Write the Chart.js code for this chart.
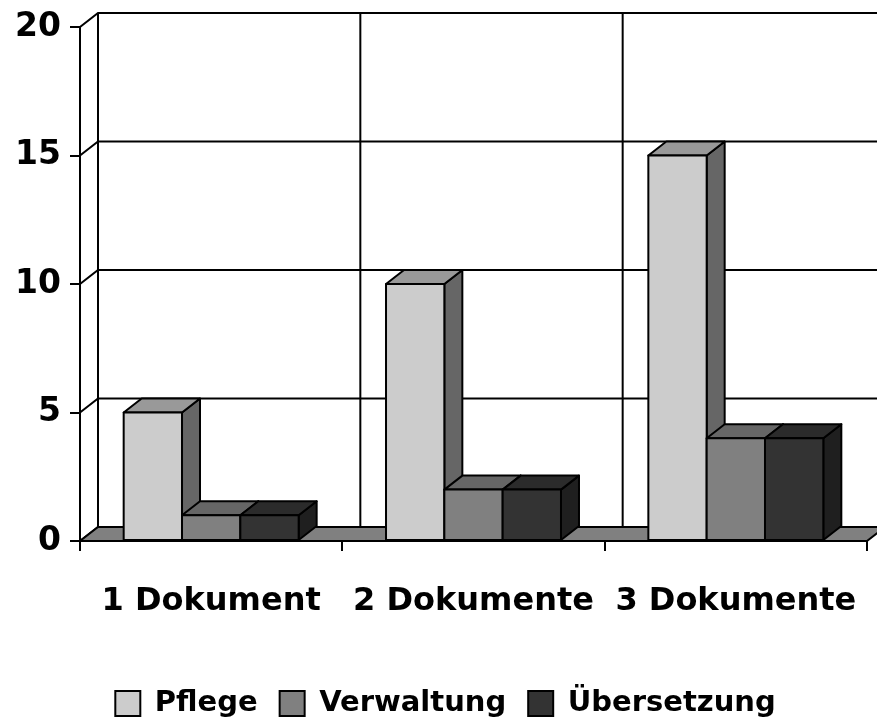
<!DOCTYPE html>
<html>
<head>
<meta charset="utf-8">
<script src="https://cdn.jsdelivr.net/npm/chart.js@4.4.0/dist/chart.umd.min.js"></script>
<style>
  html, body { margin: 0; padding: 0; background: #fff; }
  #wrap { width: 877px; height: 728px; }
</style>
</head>
<body>
<div id="wrap"><canvas id="chart" width="877" height="728"></canvas></div>
<script>
// Data
const categories = ['1 Dokument', '2 Dokumente', '3 Dokumente'];
const pflege = [5, 10, 15];
const verwaltung = [1, 2, 4];
const uebersetzung = [1, 2, 4];
const yTicks = [0, 5, 10, 15, 20];

// Shades per series: front face, top face, side face
const shades = [
    { front: '#cccccc', top: '#999999', side: '#666666' },
    { front: '#808080', top: '#666666', side: '#4d4d4d' },
    { front: '#333333', top: '#2b2b2b', side: '#1f1f1f' }
];

// Depth offset of the fake 3D box
const DX = 18, DY = -14;

// Back wall, floor and the 3D bars
const box3d = {
    id: 'box3d',
    afterUpdate(chart) {
        // legend sits a bit right of the canvas centre in the original
        chart.legend.left += 12;
        chart.legend.right += 12;
    },
    beforeDatasetsDraw(chart) {
        const { ctx, chartArea: a, scales: { x, y } } = chart;
        ctx.save();
        ctx.strokeStyle = '#000';
        ctx.lineWidth = 2;

        // Gridlines on the back wall + diagonals on the left wall
        yTicks.forEach(v => {
            const py = y.getPixelForValue(v);
            ctx.beginPath();
            ctx.moveTo(a.left, py);
            ctx.lineTo(a.left + DX, py + DY);
            ctx.lineTo(a.right + DX, py + DY);
            ctx.stroke();
        });

        // Vertical lines on the back wall (category boundaries)
        const bounds = [a.left];
        for (let i = 1; i < categories.length; i++) {
            bounds.push((x.getPixelForValue(i - 1) + x.getPixelForValue(i)) / 2);
        }
        bounds.push(a.right);
        ctx.beginPath();
        bounds.forEach(bx => {
            ctx.moveTo(bx + DX, a.top + DY);
            ctx.lineTo(bx + DX, a.bottom + DY);
        });
        ctx.stroke();

        // Floor
        ctx.beginPath();
        ctx.moveTo(a.left, a.bottom);
        ctx.lineTo(a.right, a.bottom);
        ctx.lineTo(a.right + DX, a.bottom + DY);
        ctx.lineTo(a.left + DX, a.bottom + DY);
        ctx.closePath();
        ctx.fillStyle = '#808080';
        ctx.fill();
        ctx.stroke();
        ctx.restore();
    },
    afterDatasetsDraw(chart) {
        // redraw every bar as a box, series 0 first so later ones overlap it
        const { ctx } = chart;
        ctx.save();
        ctx.strokeStyle = '#000';
        ctx.lineWidth = 2;
        ctx.lineJoin = 'round';
        chart.data.datasets.forEach((ds, i) => {
            const s = shades[i];
            chart.getDatasetMeta(i).data.forEach(bar => {
                const p = bar.getProps(['x', 'y', 'base', 'width'], true);
                const x1 = p.x - p.width / 2;
                const x2 = p.x + p.width / 2;
                const top = p.y;
                const bot = p.base;

                // side face
                ctx.beginPath();
                ctx.moveTo(x2, top);
                ctx.lineTo(x2 + DX, top + DY);
                ctx.lineTo(x2 + DX, bot + DY);
                ctx.lineTo(x2, bot);
                ctx.closePath();
                ctx.fillStyle = s.side;
                ctx.fill();
                ctx.stroke();

                // top face
                ctx.beginPath();
                ctx.moveTo(x1, top);
                ctx.lineTo(x1 + DX, top + DY);
                ctx.lineTo(x2 + DX, top + DY);
                ctx.lineTo(x2, top);
                ctx.closePath();
                ctx.fillStyle = s.top;
                ctx.fill();
                ctx.stroke();

                // front face
                ctx.beginPath();
                ctx.rect(x1, top, x2 - x1, bot - top);
                ctx.fillStyle = s.front;
                ctx.fill();
                ctx.stroke();
            });
        });
        ctx.restore();
    }
};

Chart.defaults.font.family = 'DejaVu Sans';
Chart.defaults.color = '#000';

const makeSet = (label, data, i) => ({
    label: label,
    data: data,
    backgroundColor: shades[i].front,
    borderColor: '#000',
    borderWidth: 2,
    categoryPercentage: 0.667,
    barPercentage: 1.0
});

new Chart(document.getElementById('chart'), {
    type: 'bar',
    data: {
        labels: categories,
        datasets: [
            makeSet('Pflege', pflege, 0),
            makeSet('Verwaltung', verwaltung, 1),
            makeSet('Übersetzung', uebersetzung, 2)
        ]
    },
    options: {
        responsive: false,
        animation: false,
        layout: { padding: { top: 27, right: 10, bottom: 0, left: 0 } },
        plugins: {
            tooltip: { enabled: false },
            legend: {
                position: 'bottom',
                labels: {
                    font: { size: 29, weight: 'bold' },
                    boxWidth: 25,
                    boxHeight: 25,
                    padding: 22,
                    color: '#000'
                }
            }
        },
        scales: {
            x: {
                grid: {
                    offset: true,
                    drawOnChartArea: false,
                    tickLength: 10,
                    color: '#000',
                    lineWidth: 2
                },
                border: { display: true, color: '#000', width: 2 },
                ticks: {
                    font: { size: 32, weight: 'bold' },
                    padding: 31,
                    maxRotation: 0
                },
                afterFit(scale) {
                    scale.height = 126;
                    scale.paddingLeft = 0;
                    scale.paddingRight = 0;
                }
            },
            y: {
                min: 0,
                max: 20,
                afterBuildTicks(scale) {
                    scale.ticks = yTicks.map(v => ({ value: v }));
                },
                grid: {
                    drawOnChartArea: false,
                    tickLength: 10,
                    color: '#000',
                    lineWidth: 2
                },
                border: { display: true, color: '#000', width: 2 },
                ticks: {
                    font: { size: 33, weight: 'bold' },
                    padding: 9
                },
                afterFit(scale) {
                    scale.width = 80;
                    scale.paddingTop = 0;
                    scale.paddingBottom = 0;
                }
            }
        }
    },
    plugins: [box3d]
});
</script>
</body>
</html>
